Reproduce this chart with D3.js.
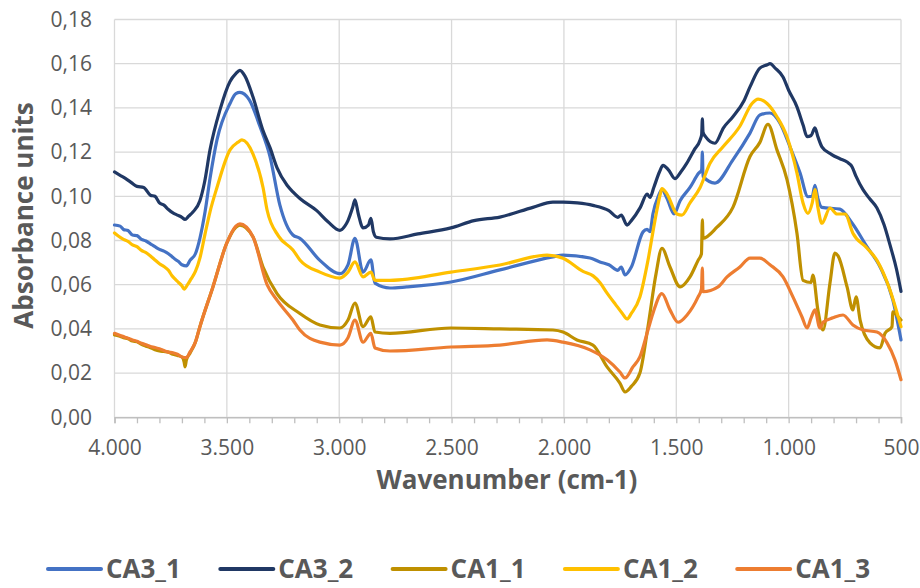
<!DOCTYPE html>
<html>
<head>
<meta charset="utf-8">
<script src="https://cdn.jsdelivr.net/npm/d3@7"></script>
<style>
  html, body { margin: 0; padding: 0; background: #ffffff; }
  svg { display: block; }
</style>
</head>
<body>
<svg id="chart" width="920" height="588"></svg>
<script>
// ---------------- data (wavenumber cm-1, absorbance) ----------------
const seriesNames = ["CA3_1", "CA3_2", "CA1_1", "CA1_2", "CA1_3"];
const seriesColors = ["#4472c4", "#203864", "#bf9000", "#ffc000", "#ed7d31"];

const xTickValues = [4000, 3500, 3000, 2500, 2000, 1500, 1000, 500];
const yTickValues = [0, 0.02, 0.04, 0.06, 0.08, 0.10, 0.12, 0.14, 0.16, 0.18];

const CA3_1 = [
  [4000,0.087],[3975,0.0865],[3960,0.085],[3940,0.0845],[3920,0.0825],[3900,0.0822],[3880,0.0805],[3860,0.0798],
  [3840,0.0785],[3820,0.0772],[3800,0.076],[3780,0.0752],[3760,0.074],[3745,0.0728],[3730,0.0715],[3715,0.0705],
  [3700,0.069],[3680,0.0685],[3664,0.071],[3640,0.074],[3620,0.081],[3597,0.093],[3575,0.108],[3544,0.1255],
  [3486,0.142],[3460,0.1465],[3442,0.147],[3400,0.1436],[3353,0.1317],[3308,0.118],[3264,0.096],[3206,0.0825],
  [3175,0.081],[3086,0.071],[2997,0.065],[2961,0.069],[2930,0.081],[2894,0.0657],[2859,0.0712],[2841,0.0607],
  [2774,0.0585],[2700,0.059],[2503,0.0612],[2285,0.0667],[2049,0.0726],[2004,0.0734],[1884,0.0721],[1840,0.0703],
  [1800,0.069],[1760,0.0665],[1745,0.068],[1728,0.0644],[1700,0.068],[1648,0.0839],[1630,0.085],[1617,0.084],
  [1604,0.092],[1580,0.1],[1564,0.103],[1541,0.099],[1510,0.092],[1483,0.098],[1439,0.104],[1400,0.1105],
  [1387,0.112],[1384,0.120],[1381,0.109],[1328,0.106],[1248,0.1165],[1172,0.1286],[1128,0.1368],[1083,0.1377],
  [1039,0.1332],[994,0.1224],[949,0.1105],[914,0.0998],[895,0.1],[883,0.105],[870,0.099],[852,0.095],
  [772,0.0942],[718,0.0879],[651,0.0771],[593,0.068],[536,0.053],[500,0.035]
];

const CA3_2 = [
  [4000,0.111],[3975,0.1095],[3950,0.108],[3925,0.1062],[3900,0.1045],[3870,0.104],[3840,0.1005],[3820,0.1],
  [3800,0.097],[3780,0.096],[3760,0.094],[3740,0.0925],[3720,0.0915],[3700,0.0905],[3686,0.0895],[3670,0.091],
  [3650,0.093],[3620,0.098],[3600,0.106],[3575,0.121],[3531,0.139],[3486,0.152],[3460,0.1555],[3442,0.157],
  [3420,0.1545],[3384,0.145],[3340,0.13],[3308,0.122],[3277,0.113],[3232,0.105],[3206,0.102],[3175,0.099],
  [3100,0.0935],[3050,0.0885],[2997,0.0846],[2975,0.0865],[2961,0.089],[2940,0.095],[2930,0.0984],[2915,0.092],
  [2894,0.0857],[2870,0.087],[2859,0.090],[2848,0.084],[2835,0.0815],[2774,0.0807],[2650,0.083],[2503,0.0857],
  [2400,0.089],[2285,0.0906],[2138,0.095],[2049,0.0974],[2004,0.0974],[1940,0.097],[1871,0.0959],[1800,0.0935],
  [1760,0.0905],[1745,0.0915],[1719,0.087],[1700,0.089],[1660,0.095],[1630,0.101],[1617,0.0995],[1600,0.104],
  [1575,0.111],[1559,0.114],[1535,0.112],[1506,0.108],[1480,0.111],[1453,0.115],[1420,0.121],[1394,0.1255],
  [1387,0.128],[1384,0.135],[1381,0.129],[1370,0.127],[1328,0.124],[1290,0.131],[1248,0.136],[1200,0.143],
  [1172,0.1495],[1128,0.158],[1095,0.1595],[1083,0.160],[1060,0.158],[1025,0.154],[1000,0.148],[963,0.1405],
  [935,0.132],[918,0.127],[900,0.1275],[883,0.131],[870,0.127],[852,0.1224],[810,0.119],[772,0.117],
  [740,0.1155],[718,0.1134],[700,0.109],[669,0.103],[640,0.099],[607,0.0947],[575,0.087],[549,0.078],
  [520,0.067],[500,0.057]
];

const CA1_1 = [
  [4000,0.0373],[3980,0.0368],[3960,0.036],[3940,0.0356],[3920,0.0345],[3900,0.0342],[3880,0.033],[3860,0.0322],
  [3840,0.0315],[3820,0.0306],[3800,0.03],[3780,0.0298],[3760,0.0295],[3740,0.0285],[3720,0.028],[3700,0.0273],
  [3690,0.025],[3686,0.0228],[3680,0.026],[3664,0.029],[3640,0.034],[3620,0.041],[3562,0.059],[3500,0.0789],
  [3460,0.086],[3442,0.087],[3384,0.0817],[3339,0.068],[3277,0.056],[3175,0.047],[3086,0.0418],[2997,0.0404],
  [2961,0.044],[2930,0.0517],[2894,0.041],[2859,0.0454],[2841,0.0386],[2774,0.038],[2503,0.0404],[2285,0.040],
  [2049,0.0395],[2004,0.0386],[1942,0.035],[1871,0.0327],[1808,0.0228],[1751,0.0155],[1728,0.0115],[1700,0.014],
  [1662,0.020],[1626,0.041],[1590,0.065],[1564,0.0765],[1528,0.068],[1483,0.059],[1439,0.0635],[1403,0.071],
  [1388,0.074],[1384,0.0893],[1381,0.081],[1319,0.086],[1248,0.095],[1172,0.118],[1128,0.1244],[1092,0.1326],
  [1052,0.121],[1007,0.1074],[963,0.0833],[936,0.062],[900,0.061],[892,0.0644],[870,0.0486],[847,0.0395],
  [816,0.0608],[794,0.0743],[780,0.073],[740,0.059],[714,0.0486],[700,0.0545],[682,0.044],[638,0.0337],
  [593,0.0314],[571,0.038],[540,0.041],[536,0.0477],[513,0.0455],[500,0.044]
];

const CA1_2 = [
  [4000,0.0834],[3980,0.0818],[3960,0.0805],[3940,0.0796],[3920,0.078],[3900,0.0772],[3880,0.0755],[3860,0.0745],
  [3840,0.073],[3820,0.0712],[3800,0.0695],[3780,0.0682],[3760,0.0665],[3745,0.0642],[3730,0.0625],[3715,0.061],
  [3700,0.0595],[3690,0.058],[3675,0.06],[3660,0.0625],[3640,0.066],[3620,0.072],[3597,0.083],[3575,0.093],
  [3544,0.104],[3486,0.121],[3450,0.1245],[3433,0.1255],[3384,0.1192],[3339,0.104],[3321,0.0938],[3270,0.082],
  [3206,0.0757],[3175,0.0712],[3086,0.0657],[2997,0.063],[2961,0.0657],[2930,0.0703],[2894,0.0635],[2859,0.0657],
  [2841,0.062],[2774,0.062],[2503,0.0657],[2285,0.0689],[2075,0.0734],[2004,0.072],[1915,0.066],[1870,0.064],
  [1840,0.061],[1808,0.0562],[1770,0.051],[1740,0.047],[1719,0.0445],[1700,0.047],[1662,0.0544],[1626,0.071],
  [1595,0.089],[1570,0.1015],[1564,0.1035],[1541,0.101],[1497,0.092],[1475,0.0915],[1439,0.097],[1394,0.104],
  [1350,0.115],[1292,0.1224],[1217,0.1317],[1163,0.142],[1136,0.144],[1096,0.142],[1052,0.136],[1007,0.1268],
  [963,0.1105],[936,0.097],[914,0.0923],[895,0.097],[883,0.103],[870,0.095],[852,0.0878],[816,0.0947],
  [785,0.092],[749,0.092],[714,0.0833],[651,0.0765],[607,0.071],[549,0.0576],[500,0.041]
];

const CA1_3 = [
  [4000,0.038],[3980,0.0372],[3960,0.0365],[3940,0.0358],[3920,0.035],[3900,0.0344],[3880,0.0335],[3860,0.0328],
  [3840,0.032],[3820,0.0316],[3800,0.031],[3780,0.0302],[3760,0.0295],[3740,0.0292],[3720,0.0285],[3700,0.0273],
  [3680,0.027],[3664,0.0296],[3640,0.034],[3620,0.041],[3562,0.059],[3500,0.0789],[3460,0.0865],[3442,0.0875],
  [3384,0.0817],[3321,0.060],[3277,0.053],[3206,0.044],[3175,0.0395],[3086,0.034],[2997,0.0327],[2961,0.036],
  [2930,0.044],[2894,0.034],[2859,0.038],[2841,0.0314],[2774,0.030],[2503,0.0318],[2285,0.0327],[2075,0.035],
  [2004,0.034],[1884,0.0305],[1808,0.026],[1751,0.0205],[1728,0.0178],[1693,0.0228],[1662,0.0273],[1626,0.0395],
  [1604,0.047],[1564,0.056],[1528,0.0486],[1492,0.043],[1452,0.0463],[1403,0.0545],[1388,0.058],[1384,0.0675],
  [1381,0.0568],[1314,0.059],[1274,0.0635],[1217,0.068],[1172,0.072],[1128,0.072],[1083,0.069],[1025,0.0635],
  [981,0.0545],[941,0.0455],[918,0.0404],[900,0.045],[883,0.0486],[861,0.0404],[847,0.043],[803,0.045],
  [758,0.0463],[714,0.0418],[669,0.0395],[607,0.0386],[562,0.0337],[527,0.026],[500,0.017]
];

const seriesData = [CA3_1, CA3_2, CA1_1, CA1_2, CA1_3];

// ---------------- layout ----------------
const svg = d3.select("#chart");
const plot = { left: 114.5, right: 901, top: 19.5, bottom: 417.3 };
const textColor = "#595959";
const gridColor = "#d9d9d9";
const axisColor = "#bfbfbf";
const tickFont = "Open Sans, Liberation Sans, sans-serif";

const locale = d3.formatLocale({ decimal: ",", thousands: ".", grouping: [3], currency: ["", "€"] });
const fmtX = locale.format(",d");
const fmtY = locale.format(".2f");

const x = d3.scaleLinear().domain([4000, 500]).range([plot.left, plot.right]);
const y = d3.scaleLinear().domain([0, 0.18]).range([plot.bottom, plot.top]);

// horizontal grid
svg.append("g").selectAll("line").data(yTickValues).join("line")
  .attr("x1", plot.left).attr("x2", plot.right)
  .attr("y1", d => y(d)).attr("y2", d => y(d))
  .attr("stroke", gridColor).attr("stroke-width", 1.3);

// vertical grid
svg.append("g").selectAll("line").data(xTickValues).join("line")
  .attr("x1", d => x(d)).attr("x2", d => x(d))
  .attr("y1", plot.top).attr("y2", plot.bottom)
  .attr("stroke", gridColor).attr("stroke-width", 1.3);

// x axis (minor ticks every 100, labels every 500)
const xAxis = d3.axisBottom(x)
  .tickValues(d3.range(4000, 499, -100))
  .tickSize(6)
  .tickPadding(17)
  .tickFormat(d => (d % 500 === 0 ? fmtX(d) : ""));
const gx = svg.append("g").attr("transform", `translate(0,${plot.bottom})`).call(xAxis);
gx.select(".domain").attr("stroke", axisColor).attr("stroke-width", 1.5);
gx.selectAll(".tick line").attr("stroke", axisColor).attr("stroke-width", 1.3);
gx.selectAll(".tick text").attr("fill", textColor).style("font-family", tickFont).style("font-size", "21px");

// y axis labels
const yAxis = d3.axisLeft(y).tickValues(yTickValues).tickSize(0).tickPadding(22.5).tickFormat(fmtY);
const gy = svg.append("g").attr("transform", `translate(${plot.left},0)`).call(yAxis);
gy.select(".domain").remove();
gy.selectAll(".tick text").attr("fill", textColor).style("font-family", tickFont).style("font-size", "21px");

// series lines
const line = d3.line()
  .x(d => x(d[0]))
  .y(d => y(d[1]))
  .curve(d3.curveMonotoneX);

svg.append("g").selectAll("path").data(seriesData).join("path")
  .attr("d", d => line(d))
  .attr("fill", "none")
  .attr("stroke", (d, i) => seriesColors[i])
  .attr("stroke-width", 3.2)
  .attr("stroke-linejoin", "round")
  .attr("stroke-linecap", "round");

// axis titles
svg.append("text")
  .attr("x", 507).attr("y", 489)
  .attr("text-anchor", "middle")
  .attr("fill", textColor)
  .style("font-family", tickFont).style("font-weight", "bold").style("font-size", "26px")
  .text("Wavenumber (cm-1)");

svg.append("text")
  .attr("transform", "translate(33,215.5) rotate(-90)")
  .attr("text-anchor", "middle")
  .attr("fill", textColor)
  .style("font-family", tickFont).style("font-weight", "bold").style("font-size", "26px")
  .text("Absorbance units");

// legend
const legend = svg.append("g");
const items = legend.selectAll("g").data(seriesNames).join("g")
  .attr("transform", (d, i) => `translate(${48 + i * 172.3},569)`);
items.append("line")
  .attr("x1", 0).attr("x2", 53).attr("y1", 0).attr("y2", 0)
  .attr("stroke", (d, i) => seriesColors[i])
  .attr("stroke-width", 4)
  .attr("stroke-linecap", "round");
items.append("text")
  .attr("x", 58).attr("y", 0).attr("dy", "0.36em")
  .attr("fill", textColor)
  .style("font-family", tickFont).style("font-weight", "bold").style("font-size", "26px")
  .text(d => d);
</script>
</body>
</html>
